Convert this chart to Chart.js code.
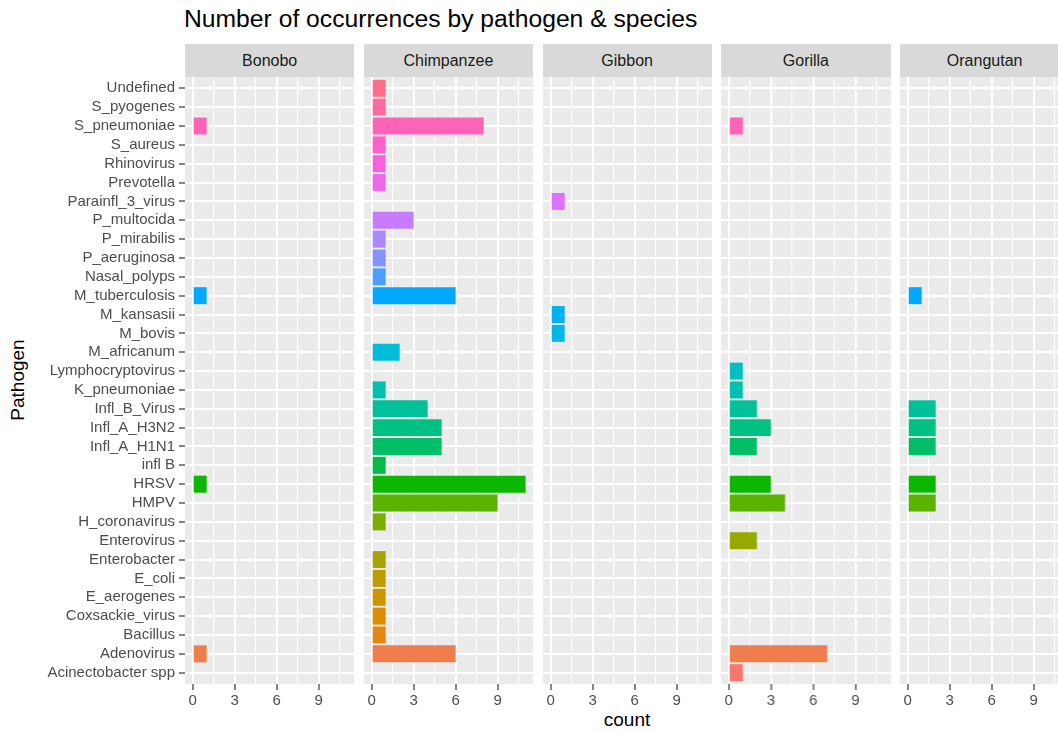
<!DOCTYPE html>
<html>
<head>
<meta charset="utf-8">
<script src="https://cdn.jsdelivr.net/npm/chart.js@4"></script>
<style>
  html, body { margin: 0; padding: 0; width: 1058px; height: 731px; overflow: hidden; background: #fff; }
  body { position: relative; font-family: "Liberation Sans", Arial, Helvetica, sans-serif; }
  .box { position: absolute; }
  .strip { position: absolute; background: #d9d9d9; color: #1a1a1a; font-size: 16px; text-align: center; }
  #title { position: absolute; left: 184px; top: 5px; font-size: 24.7px; color: #000; white-space: nowrap; }
  #ytitle { position: absolute; left: 18px; top: 380px; font-size: 19px; color: #000; transform: translate(-50%, -50%) rotate(-90deg); white-space: nowrap; }
  #xtitle { position: absolute; left: 627px; top: 709px; font-size: 19px; color: #000; transform: translateX(-50%); white-space: nowrap; }
</style>
</head>
<body>
<div id="title">Number of occurrences by pathogen &amp; species</div>
<div id="ytitle">Pathogen</div>
<div id="xtitle">count</div>

<script>
// pathogens, top to bottom as on the axis
const pathogens = [
  "Undefined", "S_pyogenes", "S_pneumoniae", "S_aureus", "Rhinovirus", "Prevotella",
  "Parainfl_3_virus", "P_multocida", "P_mirabilis", "P_aeruginosa", "Nasal_polyps",
  "M_tuberculosis", "M_kansasii", "M_bovis", "M_africanum", "Lymphocryptovirus",
  "K_pneumoniae", "Infl_B_Virus", "Infl_A_H3N2", "Infl_A_H1N1", "infl B", "HRSV", "HMPV",
  "H_coronavirus", "Enterovirus", "Enterobacter", "E_coli", "E_aerogenes",
  "Coxsackie_virus", "Bacillus", "Adenovirus", "Acinectobacter spp"
];

const species = ["Bonobo", "Chimpanzee", "Gibbon", "Gorilla", "Orangutan"];

const bonoboPathogens = ["S_pneumoniae", "M_tuberculosis", "HRSV", "Adenovirus"];
const bonoboCounts = [1, 1, 1, 1];

const chimpPathogens = [
  "Undefined", "S_pyogenes", "S_pneumoniae", "S_aureus", "Rhinovirus", "Prevotella",
  "P_multocida", "P_mirabilis", "P_aeruginosa", "Nasal_polyps", "M_tuberculosis",
  "M_africanum", "K_pneumoniae", "Infl_B_Virus", "Infl_A_H3N2", "Infl_A_H1N1", "infl B",
  "HRSV", "HMPV", "H_coronavirus", "Enterobacter", "E_coli", "E_aerogenes",
  "Coxsackie_virus", "Bacillus", "Adenovirus"
];
const chimpCounts = [1, 1, 8, 1, 1, 1, 3, 1, 1, 1, 6, 2, 1, 4, 5, 5, 1, 11, 9, 1, 1, 1, 1, 1, 1, 6];

const gibbonPathogens = ["Parainfl_3_virus", "M_kansasii", "M_bovis"];
const gibbonCounts = [1, 1, 1];

const gorillaPathogens = [
  "S_pneumoniae", "Lymphocryptovirus", "K_pneumoniae", "Infl_B_Virus", "Infl_A_H3N2",
  "Infl_A_H1N1", "HRSV", "HMPV", "Enterovirus", "Adenovirus", "Acinectobacter spp"
];
const gorillaCounts = [1, 1, 1, 2, 3, 2, 3, 4, 2, 7, 1];

const orangutanPathogens = ["M_tuberculosis", "Infl_B_Virus", "Infl_A_H3N2", "Infl_A_H1N1", "HRSV", "HMPV"];
const orangutanCounts = [1, 2, 2, 2, 2, 2];

const xTicks = [0, 3, 6, 9];

const panels = [
  [bonoboPathogens, bonoboCounts],
  [chimpPathogens, chimpCounts],
  [gibbonPathogens, gibbonCounts],
  [gorillaPathogens, gorillaCounts],
  [orangutanPathogens, orangutanCounts]
];

// ggplot default hue palette (hcl, l=65, c=100), levels in alphabetical order = bottom to top
function hcl(h, c, l) {
  const hr = h * Math.PI / 180;
  const U = c * Math.cos(hr), V = c * Math.sin(hr);
  const Xn = 95.047, Yn = 100, Zn = 108.883;
  const den = Xn + 15 * Yn + 3 * Zn;
  const un = 4 * Xn / den, vn = 9 * Yn / den;
  const Y = Yn * Math.pow((l + 16) / 116, 3);
  const u = U / (13 * l) + un, v = V / (13 * l) + vn;
  const X = 9 * Y * u / (4 * v);
  const Z = Y * (12 - 3 * u - 20 * v) / (4 * v);
  const x = X / 100, y = Y / 100, z = Z / 100;
  const lin = [
    3.2404542 * x - 1.5371385 * y - 0.4985314 * z,
    -0.9692660 * x + 1.8760108 * y + 0.0415560 * z,
    0.0556434 * x - 0.2040259 * y + 1.0572252 * z
  ];
  const ch = lin.map((t) => {
    const g = t <= 0.0031308 ? 12.92 * t : 1.055 * Math.pow(t, 1 / 2.4) - 0.055;
    return Math.round(255 * Math.min(1, Math.max(0, g)));
  });
  return `rgb(${ch[0]},${ch[1]},${ch[2]})`;
}
const n = pathogens.length;
const colors = pathogens.map((p, i) => hcl(15 + 360 * (n - 1 - i) / n, 100, 65));

const LEFT0 = 185, PITCH = 178.75, PW = 169.3, TOP = 77, CH = 654, XH = 47;

const bgPlugin = {
  id: "panelBg",
  beforeDraw(c) {
    const a = c.chartArea, ctx = c.ctx;
    ctx.save();
    ctx.fillStyle = "#ebebeb";
    ctx.fillRect(a.left, a.top, a.right - a.left, a.bottom - a.top);
    ctx.restore();
  }
};

species.forEach((name, k) => {
  const left = LEFT0 + k * PITCH;
  const strip = document.createElement("div");
  strip.className = "strip";
  strip.style.left = left + "px";
  strip.style.top = "44px";
  strip.style.width = PW + "px";
  strip.style.height = "33px";
  strip.style.lineHeight = "33px";
  strip.textContent = name;
  document.body.appendChild(strip);

  const first = k === 0;
  const box = document.createElement("div");
  box.className = "box";
  box.style.left = (first ? 0 : left) + "px";
  box.style.top = TOP + "px";
  box.style.width = (first ? LEFT0 + PW : PW) + "px";
  box.style.height = CH + "px";
  const cv = document.createElement("canvas");
  box.appendChild(cv);
  document.body.appendChild(box);

  const [names, counts] = panels[k];
  const data = pathogens.map((p, i) => {
    const j = names.indexOf(p);
    return { x: j >= 0 ? counts[j] : 0, y: i };
  });

  new Chart(cv, {
    type: "bar",
    data: {
      datasets: [{
        data,
        backgroundColor: (ctx) => colors[ctx.dataIndex],
        borderWidth: 0,
        categoryPercentage: 1,
        barPercentage: 0.9
      }]
    },
    options: {
      indexAxis: "y",
      responsive: true,
      maintainAspectRatio: false,
      animation: false,
      layout: { padding: 0 },
      plugins: { legend: { display: false }, tooltip: { enabled: false } },
      scales: {
        x: {
          type: "linear",
          min: -0.55,
          max: 11.55,
          border: { display: false },
          grid: {
            color: "#ffffff",
            lineWidth: (c) => (xTicks.includes(c.tick.value) ? 2 : 1),
            tickColor: (c) => (xTicks.includes(c.tick.value) ? "#333333" : "rgba(0,0,0,0)"),
            tickWidth: 1.2,
            tickLength: 6
          },
          ticks: {
            stepSize: 1.5,
            includeBounds: false,
            autoSkip: false,
            maxRotation: 0,
            padding: 2,
            color: "#4d4d4d",
            font: { family: "'Liberation Sans', Arial, sans-serif", size: 15 },
            callback: (v) => (xTicks.includes(v) ? String(v) : "")
          },
          afterFit(s) { s.height = XH; s.paddingLeft = 0; s.paddingRight = 0; }
        },
        y: {
          type: "linear",
          min: -0.6,
          max: n - 0.4,
          reverse: true,
          offset: false,
          border: { display: false },
          grid: {
            offset: false,
            color: "#ffffff",
            lineWidth: 2,
            drawTicks: first,
            tickColor: "#333333",
            tickWidth: 1.2,
            tickLength: 6
          },
          ticks: {
            display: first,
            stepSize: 1,
            includeBounds: false,
            autoSkip: false,
            padding: 4,
            color: "#4d4d4d",
            font: { family: "'Liberation Sans', Arial, sans-serif", size: 15 },
            callback: (v) => pathogens[v]
          },
          afterFit(s) { s.width = first ? LEFT0 : 0; s.paddingTop = 0; s.paddingBottom = 0; }
        }
      }
    },
    plugins: [bgPlugin]
  });
});
</script>
</body>
</html>
